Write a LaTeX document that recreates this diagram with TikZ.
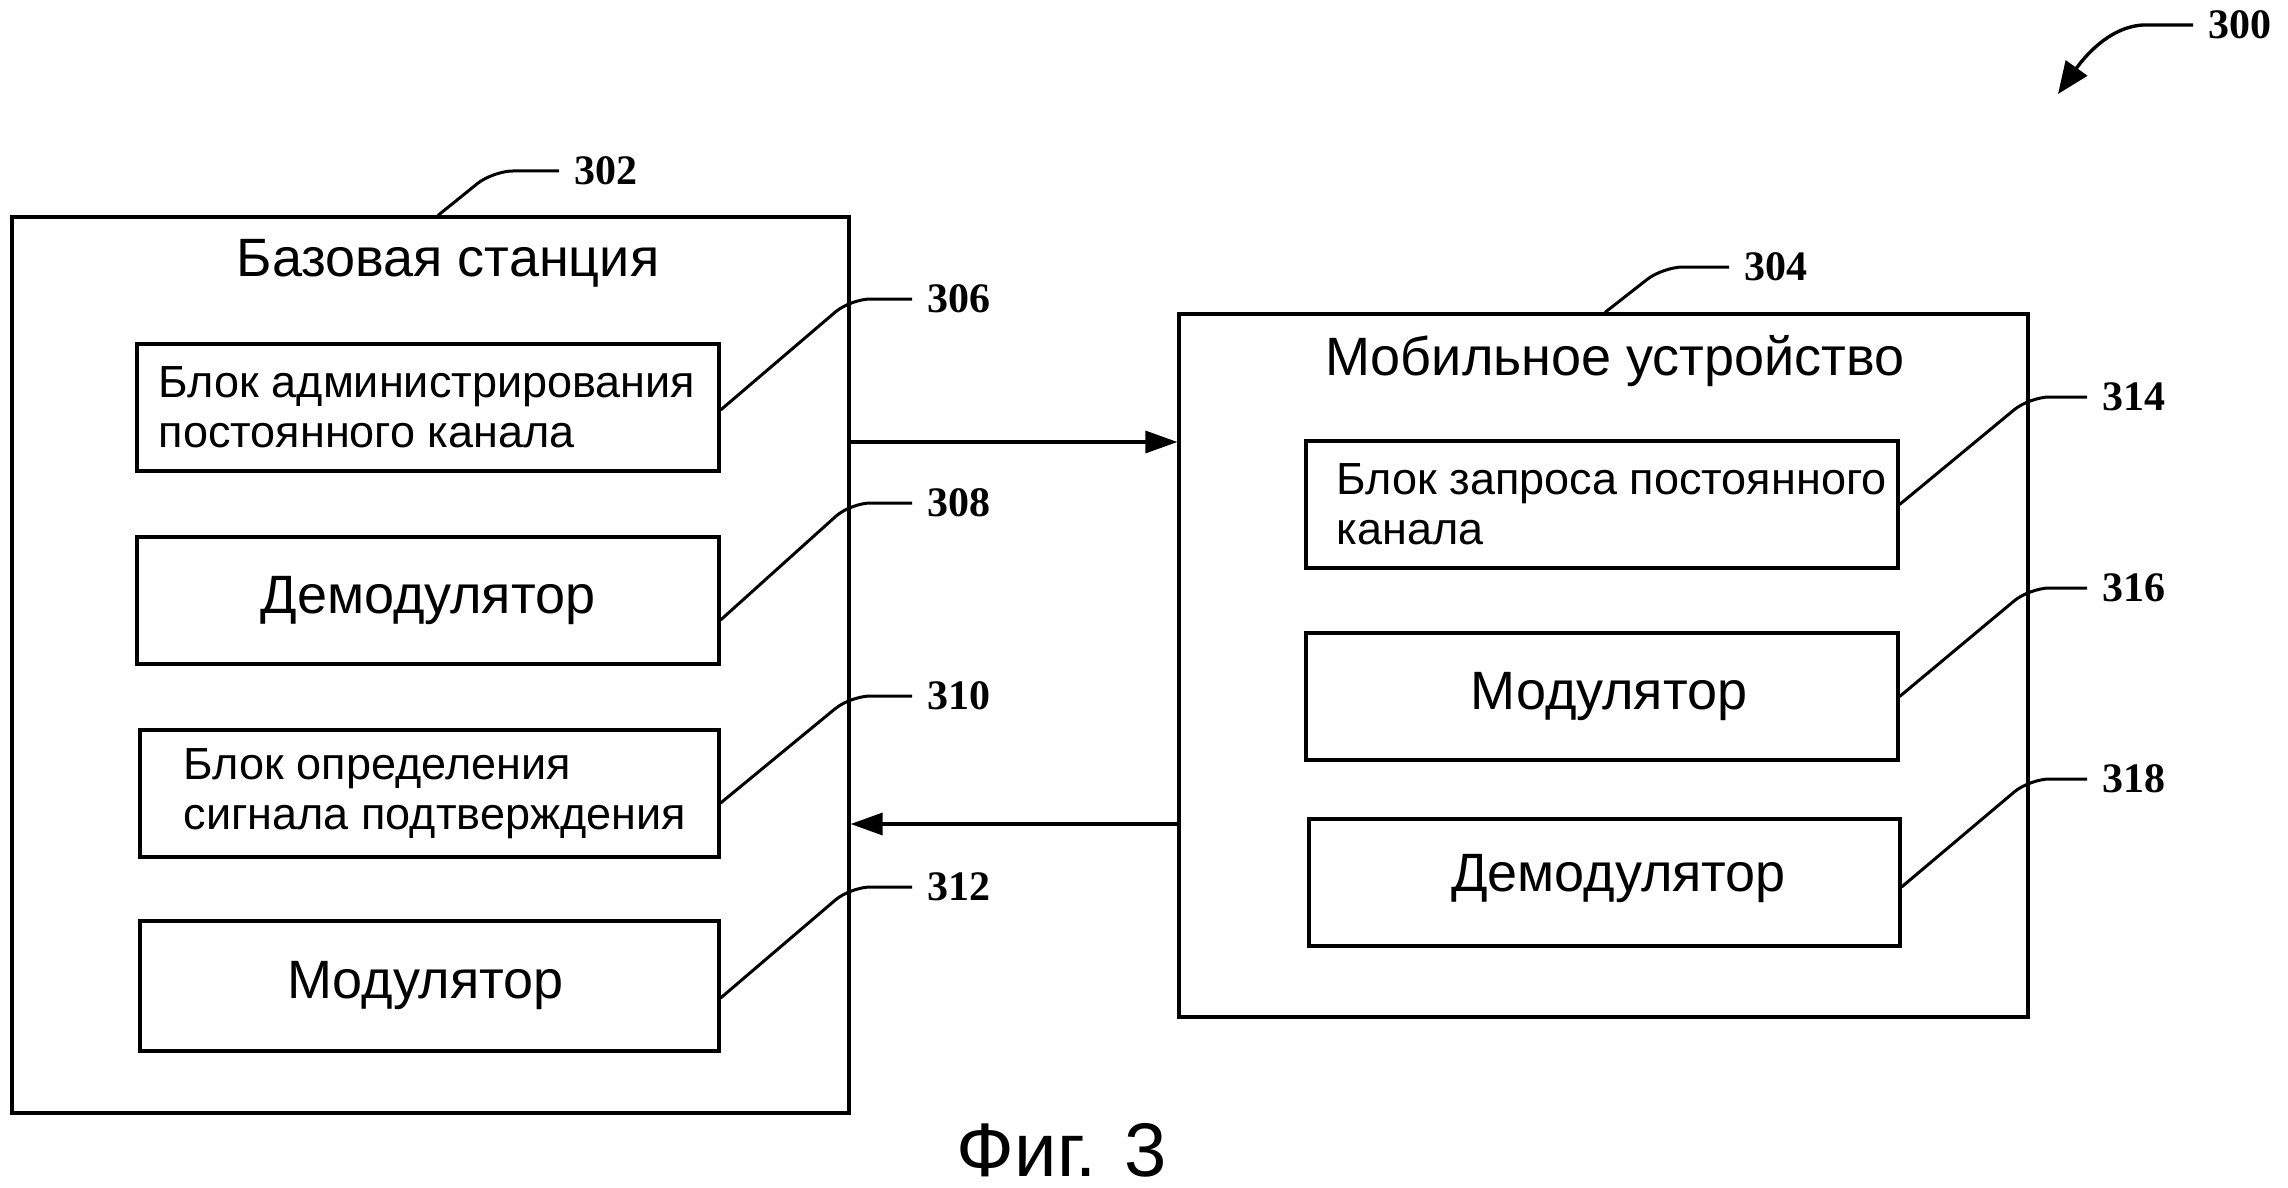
\documentclass[tikz,border=0pt]{standalone}
\usepackage{fontspec}
\setmainfont{Liberation Sans}
\newfontfamily\numfont{Liberation Serif}
\usetikzlibrary{arrows.meta,calc}
\begin{document}
\begin{tikzpicture}[x=0.5pt,y=-0.5pt,
  box/.style={draw,line width=1.6pt,inner sep=0pt},
  titletext/.style={font=\fontsize{27}{30}\selectfont,inner sep=0pt},
  bigtext/.style={font=\fontsize{27}{30}\selectfont,inner sep=0pt},
  smalltext/.style={font=\fontsize{22.5}{25}\selectfont,align=left,inner sep=0pt},
  num/.style={font=\numfont\bfseries\fontsize{21}{22}\selectfont,anchor=west,inner xsep=7.5pt,inner ysep=0pt},
  lead/.style={line width=1.5pt,rounded corners=10pt},
  conn/.style={line width=1.6pt,-{Triangle[length=16pt,width=11pt]}}
]
\useasboundingbox[fill=white] (0,0) rectangle (2288,1188);

% Base station
\node[box,minimum width=418.5pt,minimum height=448pt] (BS) at (430.5,665) {};
\node[titletext] (BSt) at (448,263) {Базовая станция};
\node[box,minimum width=291pt,minimum height=63.5pt] (b306) at (428,407.5) {};
\node[smalltext,anchor=west] (t306) at ([xshift=11.5pt]b306.west) {Блок администрирования\\постоянного канала};
\node[box,minimum width=291pt,minimum height=63.5pt] (b308) at (428,600.5) {};
\node[bigtext] (t308) at (b308.center) {Демодулятор};
\node[box,minimum width=289.5pt,minimum height=63.5pt] (b310) at (429.5,793.5) {};
\node[smalltext,anchor=west] (t310) at ([xshift=22.5pt]b310.west) {Блок определения\\сигнала подтверждения};
\node[box,minimum width=289.5pt,minimum height=65pt] (b312) at (429.5,986) {};
\node[bigtext] (t312) at ([xshift=-2pt]b312.center) {Модулятор};

% Mobile device
\node[box,minimum width=424.5pt,minimum height=351.5pt] (MD) at (1603.5,665.5) {};
\node[titletext] (MDt) at (1615,361) {Мобильное устройство};
\node[box,minimum width=296pt,minimum height=63.5pt] (b314) at (1602,504.5) {};
\node[smalltext,anchor=west] (t314) at ([xshift=16pt]b314.west) {Блок запроса постоянного\\канала};
\node[box,minimum width=296pt,minimum height=63.5pt] (b316) at (1602,696.5) {};
\node[bigtext] (t316) at ([xshift=3.5pt]b316.center) {Модулятор};
\node[box,minimum width=295.5pt,minimum height=63.5pt] (b318) at (1604.5,882.5) {};
\node[bigtext] (t318) at ([xshift=7pt,yshift=2pt]b318.center) {Демодулятор};

% reference numerals
\node[num] (l300) at (2193,25) {300};
\node[num] (l302) at (559,171) {302};
\node[num] (l304) at (1729,267) {304};
\node[num] (l306) at (912,299) {306};
\node[num] (l308) at (912,503) {308};
\node[num] (l310) at (912,696) {310};
\node[num] (l312) at (912,887) {312};
\node[num] (l314) at (2087,397) {314};
\node[num] (l316) at (2087,588) {316};
\node[num] (l318) at (2087,779) {318};

% leaders
\draw[lead] ([xshift=3.75pt]BS.north) -- ($(l302.west)+(-66,0)$) -- (l302.west);
\draw[lead] ([xshift=0.75pt]MD.north) -- ($(l304.west)+(-66,0)$) -- (l304.west);
\draw[lead] ([yshift=-1.25pt]b306.east) -- (BS.east |- l306.west) -- (l306.west);
\draw[lead] ([yshift=-9.75pt]b308.east) -- (BS.east |- l308.west) -- (l308.west);
\draw[lead] ([yshift=-4.75pt]b310.east) -- (BS.east |- l310.west) -- (l310.west);
\draw[lead] ([yshift=-6pt]b312.east) -- (BS.east |- l312.west) -- (l312.west);
\draw[lead] (b314.east) -- (MD.east |- l314.west) -- (l314.west);
\draw[lead] (b316.east) -- (MD.east |- l316.west) -- (l316.west);
\draw[lead] ([yshift=-2.25pt]b318.east) -- (MD.east |- l318.west) -- (l318.west);

% 300 arrow
\coordinate (c300) at (2058,94);
\draw[line width=1.7pt,-{Triangle[length=16pt,width=13pt]}] (l300.west) -- ++(-50,0) .. controls +(-35,2) and +(25,-35) .. (c300);

% signal arrows
\coordinate (ya) at (0,442);
\coordinate (yb) at (0,824);
\draw[conn] (BS.east |- ya) -- (MD.west |- ya);
\draw[conn] (MD.west |- yb) -- (BS.east |- yb);

\node[font=\fontsize{38}{40}\selectfont,inner sep=0pt] (fig) at (1062,1150) {Фиг. 3};
\end{tikzpicture}
\end{document}
